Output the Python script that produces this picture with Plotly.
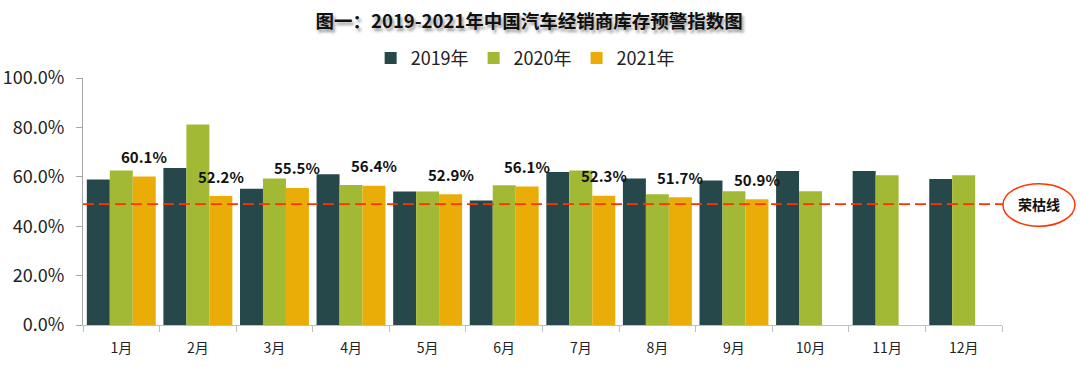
import plotly.graph_objects as go

months = ["1月", "2月", "3月", "4月", "5月", "6月", "7月", "8月", "9月", "10月", "11月", "12月"]
v2019 = [58.9, 63.6, 55.2, 61.0, 54.0, 50.4, 61.9, 59.3, 58.5, 62.3, 62.3, 59.1]
v2020 = [62.6, 81.2, 59.3, 56.7, 54.0, 56.6, 62.6, 52.9, 54.1, 54.1, 60.6, 60.6]
v2021 = [60.1, 52.2, 55.5, 56.4, 52.9, 56.1, 52.3, 51.7, 50.9]
series_names = ["2019年", "2020年", "2021年"]
colors = ["#27484A", "#A2B935", "#EAAD08"]
threshold = 48.9
threshold_label = "荣枯线"
title = "图一：2019-2021年中国汽车经销商库存预警指数图"

FONT = "Noto Sans CJK SC"
fig = go.Figure()
for name, vals, c in zip(series_names, [v2019, v2020, v2021], colors):
    fig.add_trace(go.Bar(x=months[:len(vals)], y=vals, name=name, marker_color=c,
                         marker_line_width=0))

# data labels for 2021
for m, v in zip(months, v2021):
    fig.add_annotation(x=m, y=v, text=f"{v:.1f}%", showarrow=False, xshift=23,
                       yshift=20, xanchor="center", yanchor="middle",
                       font=dict(family=FONT, size=15, color="#111111", weight="bold"))

# threshold line
fig.add_shape(type="line", xref="paper", yref="y", x0=0, x1=1.001, y0=threshold, y1=threshold,
              line=dict(color="#FF3300", width=1.8, dash="11px,5px"))
fig.add_shape(type="circle", xref="paper", yref="y", x0=1.001, x1=1.0794, y0=40.0, y1=57.2,
              line=dict(color="#FF3300", width=1.5), fillcolor="white")
fig.add_annotation(xref="paper", yref="y", x=1.0403, y=threshold, text=threshold_label,
                   showarrow=False, xanchor="center", yanchor="middle",
                   font=dict(family=FONT, size=14, color="#111111", weight="bold"))

fig.update_layout(
    width=1080, height=367,
    margin=dict(l=83, r=78, t=78, b=42, autoexpand=False),
    plot_bgcolor="white", paper_bgcolor="white",
    barmode="group", bargap=0.1, bargroupgap=0,
    font=dict(family=FONT, color="#222222"),
    title=dict(text=title, x=0.49, xanchor="center", y=0.94, yanchor="middle",
               font=dict(family=FONT, size=18.5, color="#111111", weight="bold",
                         shadow="2px 3px 3px #999999")),
    legend=dict(orientation="h", x=0.313, xanchor="left", y=1.08, yanchor="middle",
                font=dict(family=FONT, size=18), itemwidth=30, traceorder="normal",
                bgcolor="rgba(0,0,0,0)"),
    showlegend=True,
)
fig.update_yaxes(range=[0, 100], dtick=20, tickformat=".1f", ticksuffix="%",
                 showgrid=False, zeroline=False, showline=True, linecolor="#A6A6A6",
                 linewidth=1, ticks="outside", ticklen=6, tickcolor="#A6A6A6",
                 ticklabelstandoff=8, automargin=False,
                 tickfont=dict(family=FONT, size=18, color="#222222"))
fig.update_xaxes(showgrid=False, showline=True, linecolor="#BFBFBF", linewidth=1,
                 ticks="outside", tickson="boundaries", ticklen=6, tickcolor="#BFBFBF",
                 automargin=False, ticklabelstandoff=10,
                 tickfont=dict(family=FONT, size=14, color="#222222"))

fig.write_html("out.html", post_script="document.body.style.margin='0';",
               config={"displayModeBar": False})
